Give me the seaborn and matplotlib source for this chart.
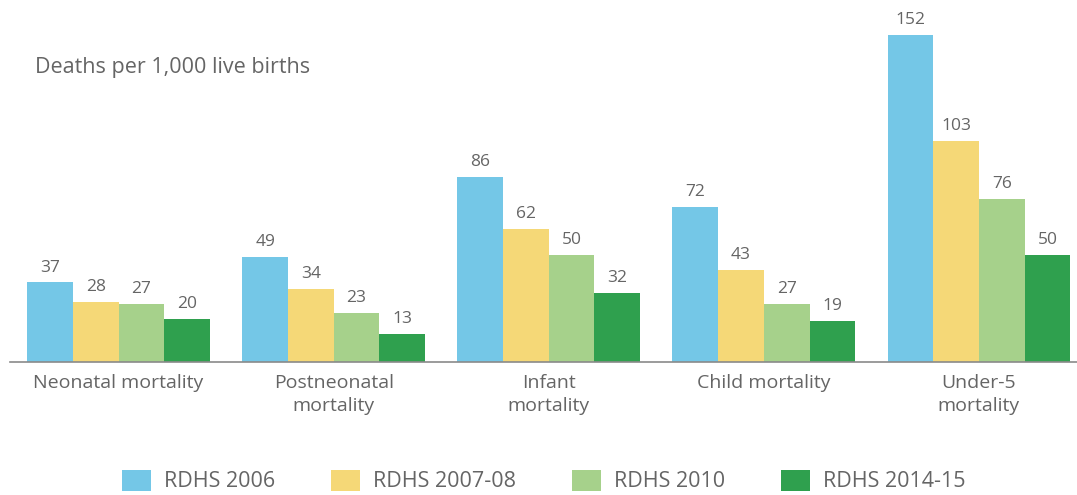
import matplotlib.pyplot as plt
import pandas as pd
import seaborn as sns

categories = ["Neonatal mortality", "Postneonatal\nmortality", "Infant\nmortality",
              "Child mortality", "Under-5\nmortality"]
surveys = ["RDHS 2006", "RDHS 2007-08", "RDHS 2010", "RDHS 2014-15"]
rdhs_2006 = [37, 49, 86, 72, 152]
rdhs_2007 = [28, 34, 62, 43, 103]
rdhs_2010 = [27, 23, 50, 27, 76]
rdhs_2014 = [20, 13, 32, 19, 50]
colors = ["#74C7E7", "#F5D877", "#A6D18B", "#2FA04E"]

rows = []
for survey, vals in zip(surveys, [rdhs_2006, rdhs_2007, rdhs_2010, rdhs_2014]):
    for cat, v in zip(categories, vals):
        rows.append({"category": cat, "survey": survey, "value": v})
df = pd.DataFrame(rows)

sns.set_style("white")
plt.rcParams['font.family'] = ['Open Sans', 'DejaVu Sans']
text_col = "#656565"

fig = plt.figure(figsize=(10.77, 4.95), dpi=100)
ax = fig.add_axes([10 / 1077, 133 / 495, 1 - 10 / 1077, 344 / 495])

sns.barplot(data=df, x="category", y="value", hue="survey", palette=colors,
            width=0.85, saturation=1, linewidth=0, ax=ax, legend=True)

for cont in ax.containers:
    ax.bar_label(cont, padding=5, fontsize=12.5, color=text_col)

ax.set_xlim(-0.505, 4.456)
ax.set_ylim(0, 160)
ax.set_xlabel("")
ax.set_ylabel("")
ax.set_yticks([])
ax.tick_params(axis="x", length=0, labelsize=14, labelcolor=text_col, pad=9)
for lbl in ax.get_xticklabels():
    lbl.set_linespacing(1.35)
for s in ["top", "right", "left"]:
    ax.spines[s].set_visible(False)
ax.spines["bottom"].set_color("#8a8a8a")
ax.spines["bottom"].set_linewidth(1.2)

fig.text(35 / 1077, 1 - 68 / 495, "Deaths per 1,000 live births", fontsize=15.5,
         color=text_col, va="center")

handles, labels = ax.get_legend_handles_labels()
ax.legend_.remove()
fig.legend(handles, labels, loc="center", bbox_to_anchor=(0.505, 1 - 481 / 495),
           ncol=4, frameon=False, fontsize=15.5, handlelength=1.35, handleheight=1.15,
           columnspacing=2.6, handletextpad=0.6, labelcolor=text_col)

fig.savefig("out.png", dpi=100)
